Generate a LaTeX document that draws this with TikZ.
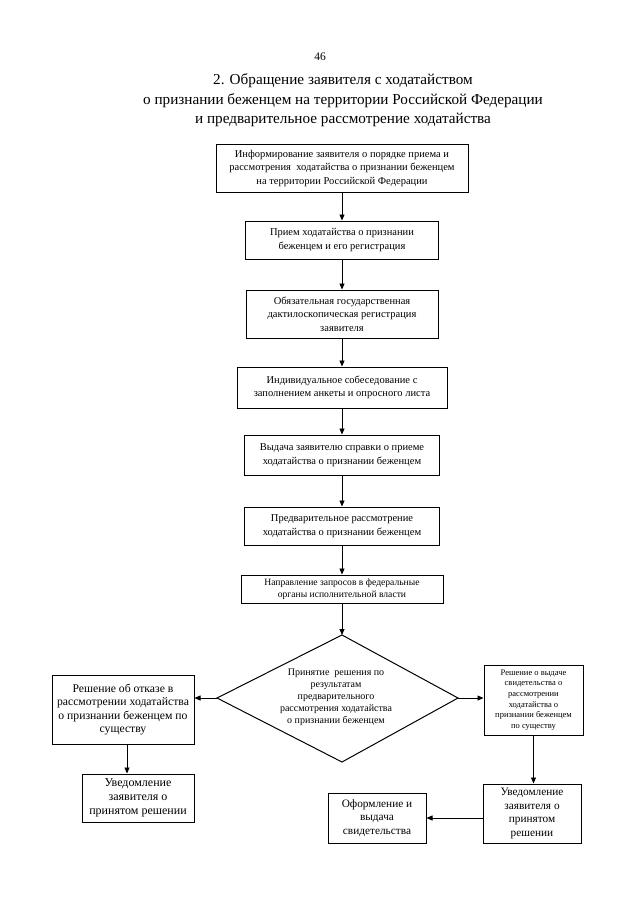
\documentclass[tikz,border=0pt]{standalone}
\usepackage{fontspec}
\setmainfont{Liberation Serif}
\usetikzlibrary{arrows.meta}
\begin{document}
\begin{tikzpicture}[x=1pt,y=-1pt,
  boxx/.style={draw,line width=1pt,align=center,inner sep=0pt,font=\fontsize{10.5}{13.5}\selectfont},
  arr/.style={line width=0.8pt,-{Triangle[length=6pt,width=5pt]}}]
\useasboundingbox (0,0) rectangle (640,905);
\node (pg) at (320,57) {\fontsize{11.5}{13}\selectfont 46};
\node[align=center,font=\fontsize{15.2}{19.5}\selectfont] (title) at (343,100.5)
  {2. Обращение заявителя с ходатайством\\о признании беженцем на территории Российской Федерации\\и предварительное рассмотрение ходатайства};
\node[boxx,minimum width=252pt,minimum height=48pt] (b1) at (342,168)
  {Информирование заявителя о порядке приема и\\рассмотрения\ \ ходатайства о признании беженцем\\на территории Российской Федерации};
\node[boxx,minimum width=193pt,minimum height=38pt] (b2) at (342,240)
  {Прием ходатайства о признании\\беженцем и его регистрация};
\node[boxx,minimum width=192pt,minimum height=48pt] (b3) at (342,314)
  {Обязательная государственная\\дактилоскопическая регистрация\\заявителя};
\node[boxx,minimum width=210pt,minimum height=41pt] (b4) at (342,387.5)
  {Индивидуальное собеседование с\\заполнением анкеты и опросного листа};
\node[boxx,minimum width=195pt,minimum height=40pt] (b5) at (342,455)
  {Выдача заявителю справки о приеме\\ходатайства о признании беженцем};
\node[boxx,minimum width=195pt,minimum height=38pt] (b6) at (342,526)
  {Предварительное рассмотрение\\ходатайства о признании беженцем};
\node[boxx,minimum width=202pt,minimum height=28pt,font=\fontsize{9.6}{12}\selectfont] (b7) at (342,589)
  {Направление запросов в федеральные\\органы исполнительной власти};
\coordinate (dt) at (342,635);
\coordinate (dl) at (217,698);
\coordinate (dr) at (458,698);
\coordinate (db) at (342,762);
\draw[line width=1pt] (dt) -- (dr) -- (db) -- (dl) -- cycle;
\node[align=center,font=\fontsize{10}{12}\selectfont] (dtext) at (336,697.5)
  {Принятие\ \ решения по\\результатам\\предварительного\\рассмотрения ходатайства\\о признании беженцем};
\node[boxx,minimum width=142pt,minimum height=69pt,font=\fontsize{11.7}{13.5}\selectfont] (l1) at (123,709.5)
  {Решение об отказе в\\рассмотрении ходатайства\\о признании беженцем по\\существу};
\node[boxx,minimum width=112pt,minimum height=48pt,font=\fontsize{12}{14}\selectfont] (l2) at (138,798)
  {Уведомление\\заявителя о\\принятом решении};
\node[boxx,minimum width=99pt,minimum height=70pt,font=\fontsize{8.5}{10.6}\selectfont] (r1) at (533.5,700)
  {Решение о выдаче\\свидетельства о\\рассмотрении\\ходатайства о\\признании беженцем\\по существу};
\node[boxx,minimum width=98pt,minimum height=59pt,font=\fontsize{11.3}{13.5}\selectfont] (r2) at (532,813.5)
  {Уведомление\\заявителя о\\принятом\\решении};
\node[boxx,minimum width=98pt,minimum height=50pt,font=\fontsize{11.3}{13.5}\selectfont] (r3) at (377,818)
  {Оформление и\\выдача\\свидетельства};
\draw[arr] (b1) -- (b2);
\draw[arr] (b2) -- (b3);
\draw[arr] (b3) -- (b4);
\draw[arr] (b4) -- (b5);
\draw[arr] (b5) -- (b6);
\draw[arr] (b6) -- (b7);
\draw[arr] (b7) -- (dt);
\draw[arr] (dl) -- (dl -| l1.east);
\draw[arr] (dr) -- (dr -| r1.west);
\draw[arr] ([xshift=4pt]l1.south) -- ([xshift=4pt]l1.south |- l2.north);
\draw[arr] (r1.south) -- (r1.south |- r2.north);
\draw[arr] (r3.east -| r2.west) -- (r3.east);
\end{tikzpicture}
\end{document}
